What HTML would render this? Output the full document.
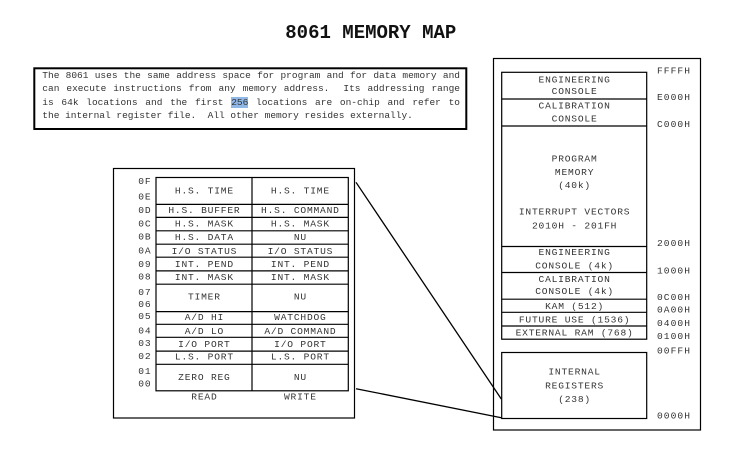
<!DOCTYPE html>
<html><head><meta charset="utf-8"><style>
html,body{margin:0;padding:0;background:#fff;}
body{width:746px;height:451px;position:relative;overflow:hidden;}
svg{position:absolute;left:0;top:0;}
.para{position:absolute;left:42.3px;top:69px;width:417.7px;font-family:"Liberation Mono",monospace;font-size:9.5px;line-height:13.3px;color:#333;}
.para div{white-space:nowrap;}
.j{text-align:justify;text-align-last:justify;white-space:normal !important;}
.hl{background:#8fb8e6;}
</style></head><body>
<svg width="746" height="451" viewBox="0 0 746 451" xmlns="http://www.w3.org/2000/svg">
<g font-family="Liberation Mono, monospace" fill="#222">
<text x="370.8" y="38" font-size="19" font-weight="bold" text-anchor="middle" fill="#111">8061 MEMORY MAP</text>
</g>
<rect x="34.3" y="68.3" width="432" height="60.7" fill="none" stroke="#000" stroke-width="2"/>
<!-- left box -->
<g fill="none" stroke="#000" stroke-width="1.2">
<rect x="113.5" y="168.5" width="241" height="249.5"/>
<rect x="156" y="177.5" width="192.3" height="213.3"/>
<line x1="252" y1="177.5" x2="252" y2="390.8"/>
<line x1="156" y1="204.4" x2="348.3" y2="204.4"/>
<line x1="156" y1="217.4" x2="348.3" y2="217.4"/>
<line x1="156" y1="230.8" x2="348.3" y2="230.8"/>
<line x1="156" y1="244.2" x2="348.3" y2="244.2"/>
<line x1="156" y1="257.2" x2="348.3" y2="257.2"/>
<line x1="156" y1="270.9" x2="348.3" y2="270.9"/>
<line x1="156" y1="284.2" x2="348.3" y2="284.2"/>
<line x1="156" y1="311.6" x2="348.3" y2="311.6"/>
<line x1="156" y1="324.3" x2="348.3" y2="324.3"/>
<line x1="156" y1="337.3" x2="348.3" y2="337.3"/>
<line x1="156" y1="351.1" x2="348.3" y2="351.1"/>
<line x1="156" y1="364.3" x2="348.3" y2="364.3"/>
</g>
<!-- right box -->
<g fill="none" stroke="#000" stroke-width="1.2">
<rect x="493.5" y="58.5" width="207" height="371.5"/>
<rect x="501.7" y="72.3" width="145" height="266.9"/>
<line x1="501.7" y1="99" x2="646.7" y2="99"/>
<line x1="501.7" y1="126" x2="646.7" y2="126"/>
<line x1="501.7" y1="246.5" x2="646.7" y2="246.5"/>
<line x1="501.7" y1="272.5" x2="646.7" y2="272.5"/>
<line x1="501.7" y1="299.2" x2="646.7" y2="299.2"/>
<line x1="501.7" y1="312.3" x2="646.7" y2="312.3"/>
<line x1="501.7" y1="326" x2="646.7" y2="326"/>
<rect x="501.7" y="352.5" width="145" height="66"/>
</g>
<g stroke="#000" stroke-width="1.3">
<line x1="356" y1="182.3" x2="501.3" y2="399"/>
<line x1="356" y1="388.7" x2="501.3" y2="417.7"/>
</g>
<g font-family="Liberation Mono, monospace" font-size="9.6" letter-spacing="0.8" fill="#333">
<text x="138.3" y="184.2">0F</text>
<text x="138.3" y="199.5">0E</text>
<text x="138.3" y="213.2">0D</text>
<text x="138.3" y="226.5">0C</text>
<text x="138.3" y="239.5">0B</text>
<text x="138.3" y="253.5">0A</text>
<text x="138.3" y="266.8">09</text>
<text x="138.3" y="279.5">08</text>
<text x="138.3" y="295.2">07</text>
<text x="138.3" y="306.8">06</text>
<text x="138.3" y="319.2">05</text>
<text x="138.3" y="333.5">04</text>
<text x="138.3" y="346.2">03</text>
<text x="138.3" y="358.8">02</text>
<text x="138.3" y="374.2">01</text>
<text x="138.3" y="386.5">00</text>
<g text-anchor="middle">
<text x="204.4" y="193.5">H.S. TIME</text><text x="300.4" y="193.5">H.S. TIME</text>
<text x="204.4" y="213.2">H.S. BUFFER</text><text x="300.4" y="213.2">H.S. COMMAND</text>
<text x="204.4" y="226.6">H.S. MASK</text><text x="300.4" y="226.6">H.S. MASK</text>
<text x="204.4" y="239.9">H.S. DATA</text><text x="300.4" y="239.9">NU</text>
<text x="204.4" y="253.9">I/O STATUS</text><text x="300.4" y="253.9">I/O STATUS</text>
<text x="204.4" y="267.2">INT. PEND</text><text x="300.4" y="267.2">INT. PEND</text>
<text x="204.4" y="279.9">INT. MASK</text><text x="300.4" y="279.9">INT. MASK</text>
<text x="204.4" y="299.5">TIMER</text><text x="300.4" y="299.5">NU</text>
<text x="204.4" y="320">A/D HI</text><text x="300.4" y="320">WATCHDOG</text>
<text x="204.4" y="333.8">A/D LO</text><text x="300.4" y="333.8">A/D COMMAND</text>
<text x="204.4" y="346.8">I/O PORT</text><text x="300.4" y="346.8">I/O PORT</text>
<text x="204.4" y="359.6">L.S. PORT</text><text x="300.4" y="359.6">L.S. PORT</text>
<text x="204.4" y="379.8">ZERO REG</text><text x="300.4" y="379.8">NU</text>
<text x="204.4" y="399.5">READ</text><text x="300.4" y="399.5">WRITE</text>

<text x="574.6" y="82.5">ENGINEERING</text>
<text x="574.6" y="94.2">CONSOLE</text>
<text x="574.6" y="108.5">CALIBRATION</text>
<text x="574.6" y="121.3">CONSOLE</text>
<text x="574.6" y="161.5">PROGRAM</text>
<text x="574.6" y="175">MEMORY</text>
<text x="574.6" y="188">(40k)</text>
<text x="574.6" y="214.5">INTERRUPT VECTORS</text>
<text x="574.6" y="228.5">2010H - 201FH</text>
<text x="574.6" y="255.2">ENGINEERING</text>
<text x="574.6" y="268.5">CONSOLE (4k)</text>
<text x="574.6" y="281.8">CALIBRATION</text>
<text x="574.6" y="294.2">CONSOLE (4k)</text>
<text x="574.6" y="308.8">KAM (512)</text>
<text x="574.6" y="322.3">FUTURE USE (1536)</text>
<text x="574.6" y="335.5">EXTERNAL RAM (768)</text>
<text x="574.6" y="374.5">INTERNAL</text>
<text x="574.6" y="388.5">REGISTERS</text>
<text x="574.6" y="401.8">(238)</text>
</g>
<g letter-spacing="1.05">
<text x="657" y="73.5">FFFFH</text>
<text x="657" y="100">E000H</text>
<text x="657" y="127">C000H</text>
<text x="657" y="246.2">2000H</text>
<text x="657" y="273.5">1000H</text>
<text x="657" y="300.2">0C00H</text>
<text x="657" y="312.5">0A00H</text>
<text x="657" y="325.8">0400H</text>
<text x="657" y="339.2">0100H</text>
<text x="657" y="353.5">00FFH</text>
<text x="657" y="418.5">0000H</text>
</g>
</g>
</svg>
<div class="para">
<div class="j">The 8061 uses the same address space for program and for data memory and</div>
<div class="j">can execute instructions from any memory address.&nbsp; Its addressing range</div>
<div class="j">is 64k locations and the first <span class="hl">256</span> locations are on-chip and refer to</div>
<div>the internal register file.&nbsp; All other memory resides externally.</div>
</div>
</body></html>
